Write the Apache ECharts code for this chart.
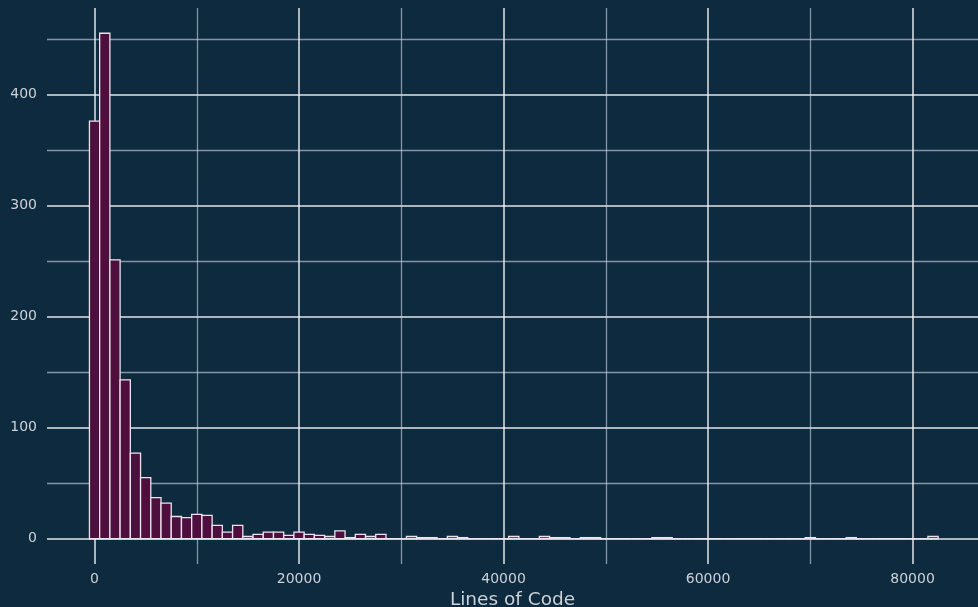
<!DOCTYPE html>
<html><head><meta charset="utf-8">
<script src="https://cdn.jsdelivr.net/npm/echarts@6/dist/echarts.min.js"></script>
<style>html,body{margin:0;padding:0;background:#0e2a3f;} #c{width:978px;height:607px;}</style>
</head><body><div id="c"></div>
<script>
// Histogram bins (left edges) and counts, bin width 1000 lines
const binStarts = [-500,500,1500,2500,3500,4500,5500,6500,7500,8500,9500,10500,11500,12500,13500,14500,15500,16500,17500,18500,19500,20500,21500,22500,23500,24500,25500,26500,27500,28500,29500,30500,31500,32500,33500,34500,35500,36500,37500,38500,39500,40500,41500,42500,43500,44500,45500,46500,47500,48500,49500,50500,51500,52500,53500,54500,55500,56500,57500,58500,59500,60500,61500,62500,63500,64500,65500,66500,67500,68500,69500,70500,71500,72500,73500,74500,75500,76500,77500,78500,79500,80500,81500];
const binEnds = [500,1500,2500,3500,4500,5500,6500,7500,8500,9500,10500,11500,12500,13500,14500,15500,16500,17500,18500,19500,20500,21500,22500,23500,24500,25500,26500,27500,28500,29500,30500,31500,32500,33500,34500,35500,36500,37500,38500,39500,40500,41500,42500,43500,44500,45500,46500,47500,48500,49500,50500,51500,52500,53500,54500,55500,56500,57500,58500,59500,60500,61500,62500,63500,64500,65500,66500,67500,68500,69500,70500,71500,72500,73500,74500,75500,76500,77500,78500,79500,80500,81500,82500];
const counts = [376,455,251,143,77,55,37,32,20,19,22,21,12,6,12,2,4,6,6,3,6,4,3,2,7,1,4,2,4,0,0,2,1,1,0,2,1,0,0,0,0,2,0,0,2,1,1,0,1,1,0,0,0,0,0,1,1,0,0,0,0,0,0,0,0,0,0,0,0,0,1,0,0,0,1,0,0,0,0,0,0,0,2];
const xMajorTicks = [0,20000,40000,60000,80000];
const xMinorTicks = [10000,30000,50000,70000];
const yMajorTicks = [0,100,200,300,400];
const yMinorTicks = [50,150,250,350,450];
const xAxisTitle = 'Lines of Code';

const chart = echarts.init(document.getElementById('c'), null, {renderer:'canvas'});
const data = counts.map((c,i)=>[binStarts[i], binEnds[i], c]);
const XMIN=-4650, XMAX=86400, YMIN=-22.75, YMAX=477.75;
const majorLine = {color:'rgba(242,244,246,0.92)', width:1.5};
const minorLine = {color:'rgba(205,214,224,0.62)', width:1.3};
const font = 'DejaVu Sans';
const plain = v => String(v);
chart.setOption({
  backgroundColor:'#0e2a3f',
  animation:false,
  grid:{left:47, right:0, top:8, bottom:43, containLabel:false, outerBoundsMode:'none'},
  xAxis:[
    {type:'value', min:XMIN, max:XMAX, position:'bottom',
     axisLine:{show:false, onZero:false}, axisTick:{show:false, customValues:xMajorTicks},
     axisLabel:{customValues:xMajorTicks, formatter:plain, color:'#cdd2d8', fontSize:14, fontFamily:font, margin:8},
     splitLine:{show:true, lineStyle:majorLine},
     name:xAxisTitle, nameLocation:'middle', nameGap:25,
     nameTextStyle:{color:'#cdd2d8', fontSize:18.5, fontFamily:font}},
    {type:'value', min:XMIN, max:XMAX, position:'bottom',
     axisLine:{show:false, onZero:false}, axisTick:{show:false, customValues:xMinorTicks},
     axisLabel:{show:false, customValues:xMinorTicks},
     splitLine:{show:true, lineStyle:minorLine}}
  ],
  yAxis:[
    {type:'value', min:YMIN, max:YMAX,
     axisLine:{show:false, onZero:false}, axisTick:{show:false, customValues:yMajorTicks},
     axisLabel:{customValues:yMajorTicks, formatter:plain, color:'#cdd2d8', fontSize:14, fontFamily:font, margin:10},
     splitLine:{show:true, lineStyle:majorLine}},
    {type:'value', min:YMIN, max:YMAX,
     axisLine:{show:false, onZero:false}, axisTick:{show:false, customValues:yMinorTicks},
     axisLabel:{show:false, customValues:yMinorTicks},
     splitLine:{show:true, lineStyle:minorLine}}
  ],
  series:[{
    type:'custom', xAxisIndex:0, yAxisIndex:0,
    encode:{x:[0,1], y:2},
    data:data,
    renderItem:function(params, api){
      const p0 = api.coord([api.value(0), api.value(2)]);
      const p1 = api.coord([api.value(1), 0]);
      return {type:'rect',
        shape:{x:p0[0], y:p0[1], width:p1[0]-p0[0], height:p1[1]-p0[1]},
        style:{fill:'#4e0f3e', stroke:'#ebe3eb', lineWidth:1.3}};
    }
  }]
});
</script></body></html>
